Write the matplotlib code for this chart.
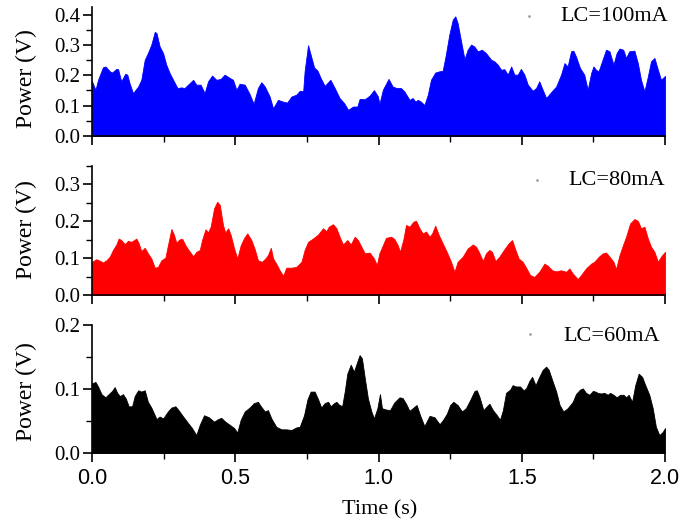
import matplotlib
matplotlib.use("Agg")
import matplotlib.pyplot as plt
from matplotlib.ticker import MultipleLocator, FormatStrFormatter

# ---------------- data ----------------
time_100 = [0.000, 0.012, 0.021, 0.038, 0.047, 0.062, 0.070, 0.085, 0.091, 0.102, 0.116, 0.123, 0.131, 0.143, 0.161,
            0.172, 0.184, 0.195, 0.207, 0.219, 0.225, 0.236, 0.248, 0.259, 0.271, 0.283, 0.298, 0.312, 0.323, 0.335,
            0.353, 0.364, 0.379, 0.393, 0.405, 0.419, 0.434, 0.449, 0.463, 0.481, 0.492, 0.504, 0.515, 0.533, 0.550,
            0.564, 0.579, 0.591, 0.603, 0.620, 0.632, 0.649, 0.667, 0.681, 0.696, 0.713, 0.725, 0.737, 0.742, 0.754,
            0.763, 0.775, 0.787, 0.798, 0.812, 0.832, 0.847, 0.864, 0.880, 0.894, 0.911, 0.926, 0.934, 0.952, 0.969,
            0.984, 0.998,
            1.003, 1.015, 1.035, 1.049, 1.063, 1.078, 1.090, 1.108, 1.119, 1.129, 1.137, 1.148, 1.160, 1.172, 1.183,
            1.198, 1.212, 1.224, 1.235, 1.247, 1.259, 1.268, 1.276, 1.288, 1.300, 1.311, 1.323, 1.334, 1.346, 1.361,
            1.375, 1.393, 1.404, 1.416, 1.428, 1.439, 1.451, 1.463, 1.474, 1.486, 1.497, 1.509, 1.521, 1.538, 1.550,
            1.561, 1.573, 1.585, 1.602, 1.620, 1.637, 1.649, 1.660, 1.672, 1.680, 1.689, 1.703, 1.718, 1.730, 1.742,
            1.750, 1.759, 1.768, 1.780, 1.794, 1.806, 1.820, 1.831, 1.841, 1.854, 1.864, 1.875, 1.893, 1.905, 1.916,
            1.928, 1.940, 1.951, 1.963, 1.975, 1.986, 2.000]
power_100 = [0.180, 0.152, 0.185, 0.226, 0.229, 0.213, 0.209, 0.221, 0.220, 0.180, 0.205, 0.202, 0.174, 0.141, 0.163,
             0.185, 0.251, 0.273, 0.301, 0.343, 0.339, 0.295, 0.273, 0.235, 0.207, 0.185, 0.158, 0.160, 0.158, 0.169,
             0.185, 0.169, 0.169, 0.141, 0.180, 0.199, 0.185, 0.188, 0.202, 0.191, 0.185, 0.152, 0.172, 0.169, 0.138,
             0.106, 0.158, 0.177, 0.163, 0.130, 0.091, 0.119, 0.113, 0.110, 0.130, 0.136, 0.149, 0.147, 0.213, 0.299,
             0.268, 0.226, 0.215, 0.191, 0.165, 0.185, 0.158, 0.125, 0.108, 0.086, 0.097, 0.097, 0.122, 0.121, 0.133,
             0.151, 0.130,
             0.105, 0.152, 0.188, 0.163, 0.158, 0.158, 0.147, 0.119, 0.125, 0.113, 0.119, 0.113, 0.102, 0.136, 0.185,
             0.209, 0.213, 0.215, 0.268, 0.334, 0.383, 0.394, 0.372, 0.312, 0.253, 0.284, 0.301, 0.295, 0.279, 0.284,
             0.273, 0.251, 0.246, 0.235, 0.218, 0.220, 0.202, 0.229, 0.202, 0.202, 0.221, 0.202, 0.169, 0.149, 0.158,
             0.180, 0.152, 0.125, 0.144, 0.163, 0.202, 0.240, 0.229, 0.279, 0.281, 0.262, 0.224, 0.202, 0.152, 0.207,
             0.229, 0.218, 0.213, 0.246, 0.284, 0.279, 0.235, 0.273, 0.288, 0.284, 0.257, 0.279, 0.281, 0.240, 0.185,
             0.147, 0.196, 0.246, 0.257, 0.218, 0.185, 0.198]

time_80 = [0.000, 0.015, 0.027, 0.038, 0.050, 0.062, 0.073, 0.085, 0.093, 0.102, 0.114, 0.126, 0.137, 0.155, 0.163,
           0.172, 0.184, 0.195, 0.207, 0.219, 0.230, 0.242, 0.256, 0.265, 0.277, 0.286, 0.294, 0.306, 0.315, 0.326,
           0.335, 0.353, 0.364, 0.376, 0.384, 0.396, 0.405, 0.414, 0.426, 0.437, 0.446, 0.457, 0.465, 0.475, 0.484,
           0.496, 0.507, 0.519, 0.531, 0.542, 0.556, 0.568, 0.579, 0.593, 0.605, 0.614, 0.624, 0.632, 0.643, 0.655,
           0.667, 0.678, 0.696, 0.713, 0.731, 0.742, 0.754, 0.771, 0.789, 0.806, 0.818, 0.826, 0.841, 0.853, 0.864,
           0.876, 0.891, 0.903, 0.917, 0.928, 0.940, 0.952, 0.969, 0.984, 0.994,
           1.003, 1.015, 1.026, 1.044, 1.055, 1.067, 1.075, 1.087, 1.096, 1.108, 1.122, 1.131, 1.143, 1.154, 1.166,
           1.178, 1.187, 1.198, 1.210, 1.224, 1.238, 1.253, 1.265, 1.276, 1.294, 1.311, 1.329, 1.340, 1.350, 1.364,
           1.375, 1.387, 1.396, 1.408, 1.422, 1.439, 1.454, 1.466, 1.478, 1.489, 1.503, 1.515, 1.529, 1.544, 1.561,
           1.579, 1.591, 1.606, 1.620, 1.637, 1.655, 1.666, 1.678, 1.695, 1.707, 1.724, 1.742, 1.753, 1.769, 1.783,
           1.794, 1.806, 1.820, 1.829, 1.841, 1.853, 1.864, 1.878, 1.893, 1.905, 1.916, 1.928, 1.940, 1.951, 1.963,
           1.975, 1.986, 2.000]
power_80 = [0.090, 0.097, 0.093, 0.088, 0.094, 0.104, 0.122, 0.137, 0.153, 0.149, 0.138, 0.147, 0.144, 0.153, 0.140,
            0.119, 0.128, 0.113, 0.099, 0.074, 0.076, 0.094, 0.101, 0.135, 0.179, 0.163, 0.142, 0.151, 0.152, 0.135,
            0.124, 0.105, 0.117, 0.122, 0.149, 0.178, 0.170, 0.185, 0.235, 0.253, 0.244, 0.190, 0.169, 0.181, 0.163,
            0.126, 0.099, 0.135, 0.155, 0.167, 0.149, 0.124, 0.094, 0.090, 0.099, 0.108, 0.128, 0.099, 0.085, 0.067,
            0.052, 0.074, 0.074, 0.076, 0.090, 0.122, 0.144, 0.153, 0.164, 0.181, 0.173, 0.185, 0.192, 0.181, 0.158,
            0.137, 0.149, 0.137, 0.158, 0.149, 0.131, 0.113, 0.115, 0.099, 0.081,
            0.113, 0.135, 0.155, 0.158, 0.152, 0.135, 0.117, 0.152, 0.190, 0.185, 0.199, 0.201, 0.181, 0.167, 0.172,
            0.158, 0.167, 0.188, 0.163, 0.140, 0.117, 0.090, 0.063, 0.090, 0.104, 0.126, 0.137, 0.131, 0.117, 0.092,
            0.113, 0.122, 0.117, 0.092, 0.104, 0.124, 0.140, 0.149, 0.122, 0.099, 0.090, 0.074, 0.054, 0.049, 0.063,
            0.085, 0.079, 0.067, 0.064, 0.067, 0.063, 0.072, 0.058, 0.043, 0.054, 0.072, 0.085, 0.090, 0.104, 0.113,
            0.115, 0.104, 0.090, 0.070, 0.108, 0.135, 0.158, 0.194, 0.206, 0.201, 0.181, 0.185, 0.153, 0.131, 0.117,
            0.090, 0.104, 0.117]

time_60 = [0.000, 0.012, 0.021, 0.033, 0.047, 0.058, 0.070, 0.079, 0.088, 0.097, 0.108, 0.118, 0.128, 0.140, 0.149,
           0.161, 0.172, 0.184, 0.195, 0.207, 0.225, 0.236, 0.248, 0.265, 0.277, 0.291, 0.302, 0.318, 0.335, 0.349,
           0.364, 0.376, 0.391, 0.407, 0.426, 0.440, 0.451, 0.465, 0.481, 0.496, 0.507, 0.519, 0.533, 0.550, 0.565,
           0.579, 0.591, 0.603, 0.614, 0.626, 0.643, 0.661, 0.678, 0.696, 0.713, 0.725, 0.740, 0.752, 0.763, 0.777,
           0.789, 0.800, 0.812, 0.824, 0.833, 0.845, 0.853, 0.861, 0.873, 0.882, 0.891, 0.903, 0.914, 0.926, 0.934,
           0.942, 0.952, 0.963, 0.975, 0.984, 0.996, 1.005,
           1.012, 1.026, 1.040, 1.055, 1.073, 1.084, 1.096, 1.108, 1.122, 1.133, 1.145, 1.160, 1.178, 1.195, 1.213,
           1.224, 1.238, 1.250, 1.261, 1.276, 1.291, 1.305, 1.320, 1.335, 1.343, 1.352, 1.366, 1.378, 1.387, 1.399,
           1.410, 1.424, 1.434, 1.445, 1.459, 1.468, 1.480, 1.494, 1.506, 1.515, 1.527, 1.536, 1.548, 1.561, 1.573,
           1.585, 1.594, 1.606, 1.620, 1.632, 1.645, 1.660, 1.678, 1.689, 1.703, 1.713, 1.724, 1.736, 1.748, 1.757,
           1.765, 1.777, 1.788, 1.800, 1.808, 1.820, 1.831, 1.843, 1.855, 1.864, 1.873, 1.885, 1.896, 1.908, 1.920,
           1.931, 1.945, 1.957, 1.968, 1.980, 1.992, 2.000]
power_60 = [0.109, 0.111, 0.104, 0.092, 0.087, 0.092, 0.097, 0.103, 0.094, 0.089, 0.092, 0.085, 0.073, 0.073, 0.089,
            0.098, 0.096, 0.098, 0.080, 0.071, 0.053, 0.057, 0.054, 0.065, 0.071, 0.073, 0.067, 0.057, 0.047, 0.039,
            0.028, 0.044, 0.059, 0.056, 0.049, 0.053, 0.055, 0.049, 0.044, 0.039, 0.032, 0.052, 0.065, 0.071, 0.078,
            0.080, 0.072, 0.065, 0.067, 0.054, 0.041, 0.037, 0.037, 0.036, 0.040, 0.041, 0.059, 0.084, 0.096, 0.096,
            0.084, 0.071, 0.078, 0.080, 0.073, 0.078, 0.080, 0.076, 0.073, 0.096, 0.124, 0.138, 0.127, 0.143, 0.153,
            0.148, 0.117, 0.085, 0.065, 0.054, 0.070, 0.092,
            0.070, 0.068, 0.067, 0.079, 0.087, 0.086, 0.077, 0.066, 0.071, 0.075, 0.059, 0.042, 0.058, 0.056, 0.045,
            0.051, 0.061, 0.075, 0.080, 0.075, 0.065, 0.070, 0.083, 0.097, 0.098, 0.088, 0.067, 0.073, 0.077, 0.067,
            0.061, 0.052, 0.067, 0.094, 0.099, 0.106, 0.104, 0.104, 0.098, 0.101, 0.113, 0.119, 0.106, 0.119, 0.130,
            0.135, 0.130, 0.114, 0.096, 0.075, 0.065, 0.070, 0.080, 0.092, 0.099, 0.101, 0.094, 0.091, 0.097, 0.096,
            0.094, 0.093, 0.094, 0.091, 0.094, 0.091, 0.087, 0.091, 0.091, 0.087, 0.091, 0.080, 0.106, 0.124, 0.119,
            0.106, 0.091, 0.070, 0.041, 0.028, 0.033, 0.039]

series_labels = ["LC=100mA", "LC=80mA", "LC=60mA"]
x_ticks = [0.0, 0.5, 1.0, 1.5, 2.0]
x_label = "Time (s)"
y_label = "Power (V)"

# ---------------- figure ----------------
fig = plt.figure(figsize=(6.95, 5.23), dpi=100)
serif = "Liberation Serif"
sans = "Liberation Sans"

L, W = 0.1324, 0.8245
panels = [
    dict(t=time_100, p=power_100, color="#0000ff", rect=(L, 0.7400, W, 0.2467), ymax=0.425, ystep=0.1,
         label=series_labels[0], lab_xy=(0.817, 0.925), dot_xy=(0.763, 0.930), ylab_y=0.849),
    dict(t=time_80, p=power_80, color="#ff0000", rect=(L, 0.4360, W, 0.2467), ymax=0.35, ystep=0.1,
         label=series_labels[1], lab_xy=(0.832, 0.885), dot_xy=(0.777, 0.891), ylab_y=0.562),
    dict(t=time_60, p=power_60, color="#000000", rect=(L, 0.1338, W, 0.2447), ymax=0.2, ystep=0.1,
         label=series_labels[2], lab_xy=(0.822, 0.910), dot_xy=(0.764, 0.930), ylab_y=0.252),
]

for i, pn in enumerate(panels):
    ax = fig.add_axes(pn["rect"])
    ax.fill_between(pn["t"], pn["p"], 0, color=pn["color"], lw=0.6, edgecolor=pn["color"])
    ax.set_xlim(0, 2)
    ax.set_ylim(0, pn["ymax"])
    for s in ("top", "right"):
        ax.spines[s].set_visible(False)
    for s in ("left", "bottom"):
        ax.spines[s].set_linewidth(1.2)
        ax.spines[s].set_zorder(5)
    ax.set_xticks(x_ticks)
    ax.xaxis.set_minor_locator(MultipleLocator(0.25))
    ax.yaxis.set_major_locator(MultipleLocator(pn["ystep"]))
    ax.yaxis.set_minor_locator(MultipleLocator(0.05))
    ax.yaxis.set_major_formatter(FormatStrFormatter("%.1f"))
    ax.xaxis.set_major_formatter(FormatStrFormatter("%.1f"))
    ax.tick_params(which="major", direction="out", length=6.5, width=1.2, pad=2)
    ax.tick_params(which="minor", direction="out", length=4, width=1.0)
    ax.tick_params(axis="y", labelsize=15, labelfontfamily=serif)
    ax.tick_params(axis="x", labelsize=15.5, labelfontfamily=sans, pad=4)
    if i < 2:
        ax.tick_params(axis="x", labelbottom=False)
    ax.text(pn["lab_xy"][0], pn["lab_xy"][1], pn["label"], transform=ax.transAxes,
            ha="left", va="center", fontsize=16, family=serif)
    ax.plot([pn["dot_xy"][0]], [pn["dot_xy"][1]], transform=ax.transAxes, marker="o",
            ms=0.9, color="#999999", ls="none", clip_on=False)
    fig.text(0.0374, pn["ylab_y"], y_label, rotation=90, ha="center", va="center",
             fontsize=17, family=serif)

fig.text(0.546, 0.025, x_label, ha="center", va="center", fontsize=16, family=serif)

fig.savefig("out.png", dpi=100)
